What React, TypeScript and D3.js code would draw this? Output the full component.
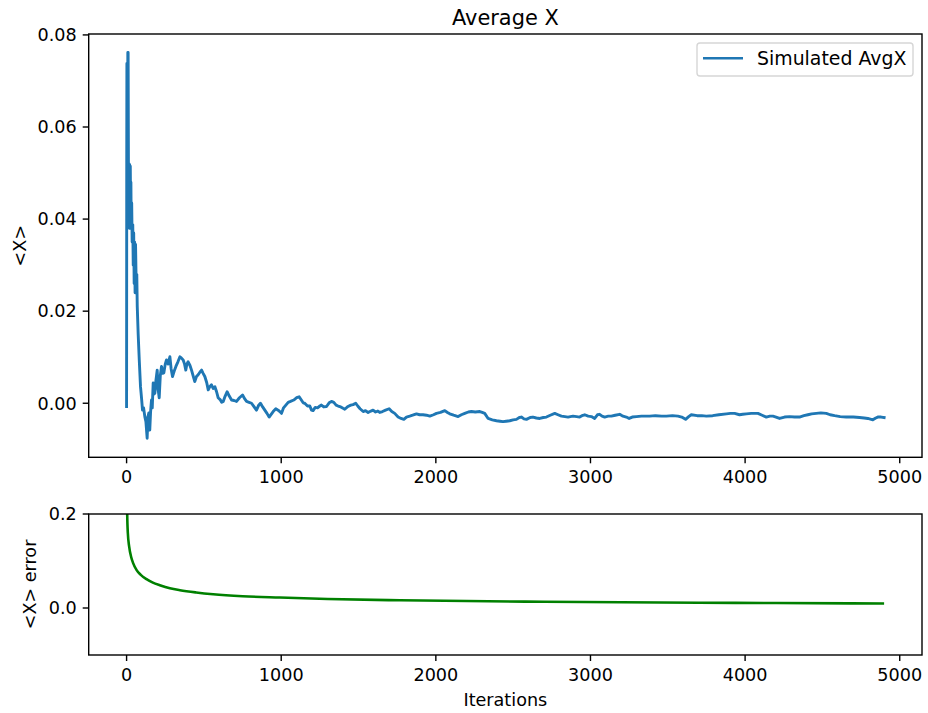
import React from "react";
import * as d3 from "d3";

const avgIter = [0,1,2,3,4,6,8,10,12,14,16,18,20,22,24,26,28,30,33,36,40,43,46,49,52,55,58,62,66,69,75,82,90,97,103,110,118,125,133,138,144,150,155,161,166,172,178,183,190,198,204,211,218,226,233,241,250,258,268,280,288,297,308,319,332,345,355,366,375,383,390,398,410,420,430,441,452,463,475,485,495,506,518,528,538,549,560,571,582,592,605,615,625,637,650,665,679,695,711,730,750,763,776,792,808,825,840,853,866,880,894,908,922,935,948,965,980,991,1002,1015,1030,1045,1060,1081,1100,1116,1128,1142,1152,1170,1185,1196,1206,1220,1235,1250,1260,1275,1293,1310,1325,1340,1355,1368,1385,1400,1411,1432,1450,1465,1482,1495,1510,1530,1545,1562,1580,1594,1610,1625,1637,1655,1675,1698,1715,1734,1756,1775,1793,1810,1831,1850,1875,1895,1917,1940,1961,1985,2004,2030,2058,2075,2090,2115,2144,2165,2187,2210,2230,2255,2284,2300,2316,2338,2365,2392,2415,2434,2455,2478,2500,2521,2540,2553,2570,2586,2610,2628,2650,2672,2695,2715,2740,2769,2790,2812,2835,2855,2870,2887,2910,2930,2945,2963,2985,3006,3027,3045,3059,3075,3092,3115,3135,3160,3189,3210,3232,3250,3270,3297,3330,3360,3383,3420,3460,3491,3530,3566,3590,3615,3635,3652,3690,3720,3749,3790,3830,3879,3905,3932,3964,3985,4008,4040,4083,4110,4137,4160,4180,4200,4223,4255,4288,4320,4352,4380,4406,4430,4460,4490,4525,4550,4579,4615,4654,4700,4740,4770,4794,4826,4845,4858,4880,4899];

const avgX = [-0.0007,0.0525,0.0738,0.040,0.0738,0.045,0.0762,0.0762,0.052,0.040,0.052,0.038,0.0518,0.039,0.0515,0.042,0.048,0.038,0.0435,0.035,0.0388,0.030,0.037,0.026,0.035,0.024,0.0345,0.026,0.028,0.021,0.015,0.0094,0.0036,0.001,-0.0015,-0.001,-0.0029,-0.004,-0.0076,-0.003,-0.0021,-0.0058,-0.002,0.0007,-0.001,0.0044,0.002,0.0022,0.005,0.0072,0.003,0.0012,0.006,0.008,0.0065,0.0066,0.0085,0.0094,0.0085,0.0101,0.0075,0.0058,0.007,0.008,0.009,0.0101,0.0098,0.0094,0.0085,0.0072,0.0085,0.009,0.0082,0.0072,0.006,0.0047,0.0058,0.0062,0.0068,0.0072,0.0065,0.0058,0.0045,0.0029,0.0036,0.004,0.0032,0.0036,0.0025,0.0012,0.0008,0.0002,0.0004,0.0015,0.0025,0.0015,0.0007,0.0006,0.0004,0.0012,0.0018,0.001,0.0004,0.0002,0.0,-0.0008,-0.0015,-0.0005,0.0,-0.0008,-0.0015,-0.0022,-0.003,-0.0024,-0.0018,-0.0012,-0.0015,-0.0018,-0.0022,-0.001,-0.0004,0.0002,0.0004,0.0007,0.0012,0.0014,0.0008,0.0001,0.0,-0.0006,-0.0006,-0.0015,-0.0016,-0.0009,-0.001,-0.0006,-0.0004,-0.0008,-0.0007,0.0001,0.0004,0.0002,-0.0004,-0.0006,-0.0008,-0.0011,-0.0013,-0.0007,-0.0004,-0.0003,0.0,-0.0006,-0.0012,-0.0018,-0.0016,-0.002,-0.0017,-0.0015,-0.0019,-0.0017,-0.002,-0.0018,-0.0015,-0.0012,-0.0018,-0.0022,-0.003,-0.0033,-0.0035,-0.003,-0.0028,-0.0026,-0.0023,-0.0025,-0.0025,-0.0026,-0.0028,-0.0025,-0.0022,-0.002,-0.0016,-0.002,-0.0023,-0.0026,-0.0029,-0.0025,-0.0022,-0.0019,-0.0018,-0.0019,-0.0018,-0.002,-0.0022,-0.0033,-0.0036,-0.0038,-0.0039,-0.004,-0.0039,-0.0038,-0.0036,-0.0035,-0.0031,-0.003,-0.0034,-0.0035,-0.0031,-0.003,-0.0032,-0.0033,-0.0031,-0.003,-0.0026,-0.0022,-0.0025,-0.0028,-0.0029,-0.003,-0.0029,-0.0028,-0.0029,-0.003,-0.0027,-0.0025,-0.0028,-0.0029,-0.0033,-0.0025,-0.0024,-0.0028,-0.003,-0.0028,-0.0028,-0.0026,-0.0024,-0.0028,-0.003,-0.0033,-0.003,-0.0029,-0.0028,-0.0028,-0.0028,-0.0027,-0.0028,-0.0028,-0.0027,-0.0028,-0.003,-0.0035,-0.0029,-0.0025,-0.0027,-0.0027,-0.0028,-0.0027,-0.0025,-0.0023,-0.0022,-0.0022,-0.0025,-0.0024,-0.0023,-0.0022,-0.0022,-0.0026,-0.003,-0.0028,-0.0028,-0.003,-0.0033,-0.003,-0.0029,-0.003,-0.003,-0.0027,-0.0025,-0.0023,-0.0022,-0.0021,-0.0022,-0.0025,-0.0027,-0.0029,-0.003,-0.003,-0.0031,-0.0032,-0.0033,-0.0036,-0.0032,-0.003,-0.003,-0.0031];

const errIter = [1,2,4,8,17,30,43,65,90,129,170,215,280,345,450,560,750,991,1300,1767,2200,2700,3200,3700,4200,4899];
const errX = [0.45,0.32,0.2,0.16,0.13,0.108,0.095,0.0805,0.071,0.0613,0.054,0.0485,0.042,0.0378,0.033,0.0292,0.025,0.0222,0.0192,0.0164,0.0148,0.0133,0.0122,0.0113,0.0105,0.0097];

const xTicks = [0, 1000, 2000, 3000, 4000, 5000];
const topYTicks = [0.0, 0.02, 0.04, 0.06, 0.08];
const botYTicks = [0.0, 0.2];

const FONT = "'DejaVu Sans', sans-serif";
const FS = 17.6;

export default function App() {
  const W = 928, H = 713;
  const L = 88.7, R = 922;
  const T1 = 34, B1 = 457.3;
  const T2 = 514, B2 = 655;

  const x = d3.scaleLinear().domain([-245, 5144]).range([L, R]);
  const y1 = d3.scaleLinear().domain([-0.01174, 0.0802]).range([B1, T1]);
  const y2 = d3.scaleLinear().domain([-0.1, 0.2]).range([B2, T2]);

  const avgData = avgIter.map((n, i) => [n, avgX[i]] as [number, number]);
  const errData = errIter.map((n, i) => [n, errX[i]] as [number, number]);

  const line1 = d3.line<[number, number]>().x(d => x(d[0])).y(d => y1(d[1]));
  const line2 = d3.line<[number, number]>().x(d => x(d[0])).y(d => y2(d[1])).curve(d3.curveMonotoneX);

  const xAxis = (bottom: number) => (
    <g>
      {xTicks.map(t => (
        <g key={t}>
          <line x1={x(t)} x2={x(t)} y1={bottom} y2={bottom + 6} stroke="#000" strokeWidth={1.4} />
          <text x={x(t)} y={bottom + 26} textAnchor="middle" fontSize={FS} fontFamily={FONT}>{t}</text>
        </g>
      ))}
    </g>
  );

  const yAxis = (ticks: number[], ys: d3.ScaleLinear<number, number>, digits: number) => (
    <g>
      {ticks.map(t => (
        <g key={t}>
          <line x1={L - 6} x2={L} y1={ys(t)} y2={ys(t)} stroke="#000" strokeWidth={1.4} />
          <text x={L - 12} y={ys(t) + 6.3} textAnchor="end" fontSize={FS} fontFamily={FONT}>{t.toFixed(digits)}</text>
        </g>
      ))}
    </g>
  );

  return (
    <svg width={W} height={H} style={{ position: "absolute", left: 0, top: 0, background: "#fff" }}>
      <defs>
        <clipPath id="c1"><rect x={L} y={T1} width={R - L} height={B1 - T1} /></clipPath>
        <clipPath id="c2"><rect x={L} y={T2} width={R - L} height={B2 - T2} /></clipPath>
      </defs>
      <rect x={0} y={0} width={W} height={H} fill="#fff" />

      {/* Top panel */}
      <path d={line1(avgData) || ""} fill="none" stroke="#1f77b4" strokeWidth={2.9} strokeLinejoin="round" strokeLinecap="square" clipPath="url(#c1)" />
      <rect x={L} y={T1} width={R - L} height={B1 - T1} fill="none" stroke="#000" strokeWidth={1.4} />
      {xAxis(B1)}
      {yAxis(topYTicks, y1, 2)}
      <text x={(L + R) / 2} y={25} textAnchor="middle" fontSize={20.9} fontFamily={FONT}>Average X</text>
      <text transform={`translate(26, ${(T1 + B1) / 2}) rotate(-90)`} textAnchor="middle" fontSize={FS} fontFamily={FONT}>{"<X>"}</text>

      {/* Legend */}
      <rect x={697} y={43} width={216} height={33} rx={3} fill="#fff" fillOpacity={0.8} stroke="#d6d6d6" strokeWidth={1.4} />
      <line x1={703} x2={743} y1={58.3} y2={58.3} stroke="#1f77b4" strokeWidth={2.6} />
      <text x={757} y={65.2} fontSize={18.9} fontFamily={FONT}>Simulated AvgX</text>

      {/* Bottom panel */}
      <path d={line2(errData) || ""} fill="none" stroke="#008000" strokeWidth={2.6} clipPath="url(#c2)" />
      <rect x={L} y={T2} width={R - L} height={B2 - T2} fill="none" stroke="#000" strokeWidth={1.4} />
      {xAxis(B2)}
      {yAxis(botYTicks, y2, 1)}
      <text transform={`translate(36, ${(T2 + B2) / 2}) rotate(-90)`} textAnchor="middle" fontSize={FS} fontFamily={FONT}>{"<X> error"}</text>
      <text x={(L + R) / 2} y={706} textAnchor="middle" fontSize={FS} fontFamily={FONT}>Iterations</text>
    </svg>
  );
}
